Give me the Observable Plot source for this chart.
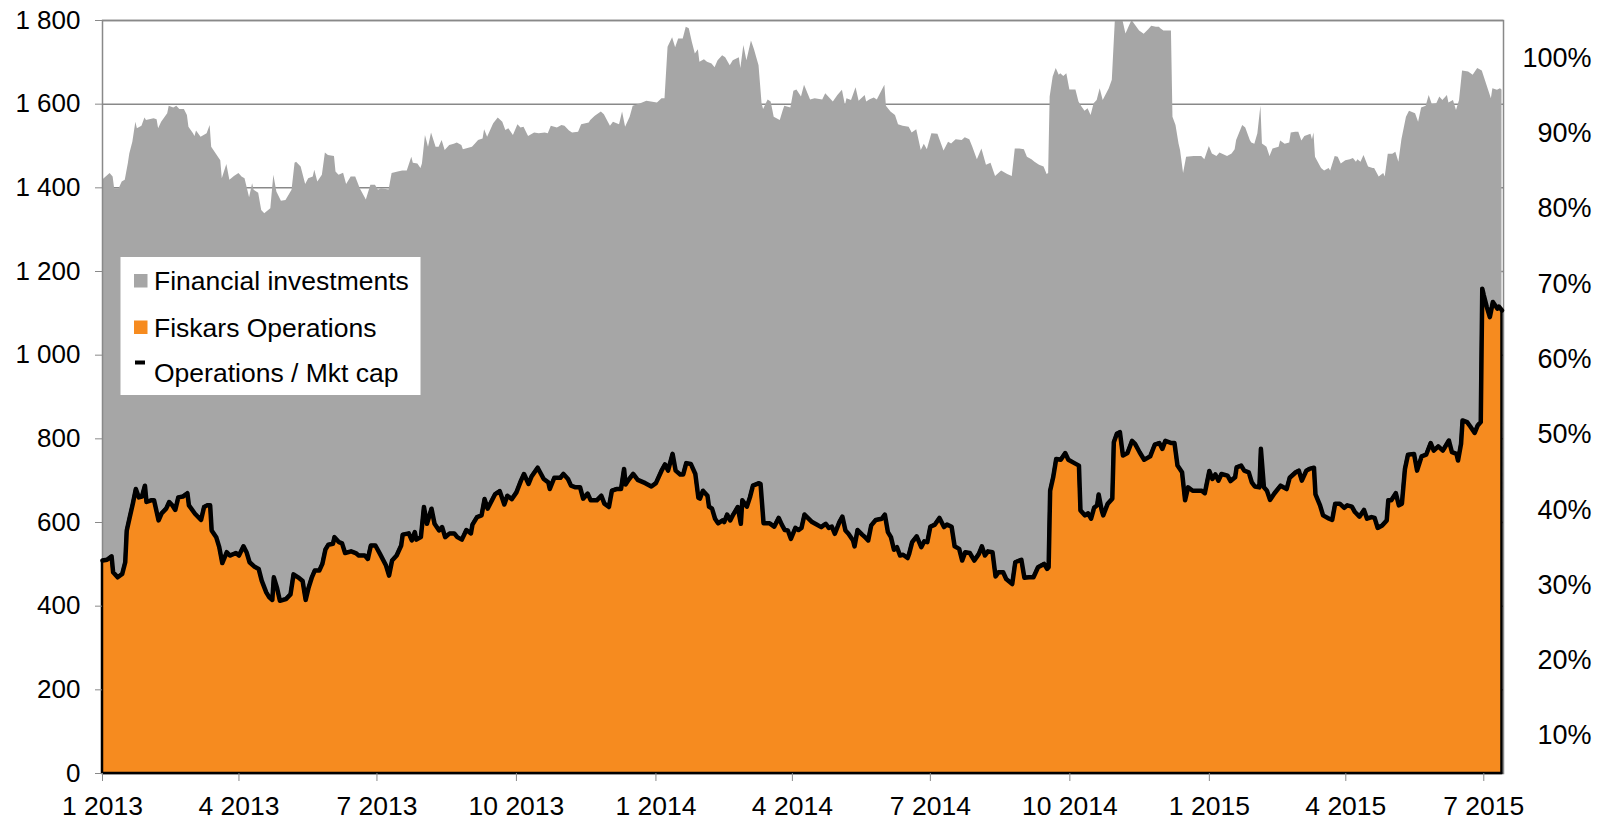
<!DOCTYPE html>
<html><head><meta charset="utf-8">
<script src="https://cdn.jsdelivr.net/npm/d3@7"></script>
<script src="https://cdn.jsdelivr.net/npm/@observablehq/plot@0.6"></script>
<style>html,body{margin:0;padding:0;background:#fff;}</style>
</head><body><div id="chart"></div>
<script>
// Market capitalisation (top of grey area): [days since 2013-01-01, value]
const mktCapSeries = [
[0,1418],[5,1434],[7,1426],[8,1398],[11,1398],[13,1414],[15,1418],[17,1457],[18,1481],[20,1509],[22,1557],[23,1541],[26,1547],[28,1567],[29,1561],[34,1565],[36,1563],[37,1541],[39,1557],[43,1577],[44,1595],[47,1591],[49,1595],[51,1587],[54,1587],[56,1573],[57,1545],[60,1529],[61,1523],[62,1536],[65,1521],[69,1529],[71,1549],[72,1497],[75,1481],[78,1465],[79,1422],[82,1456],[84,1418],[87,1427],[90,1434],[92,1426],[94,1422],[97,1376],[99,1410],[100,1394],[103,1387],[105,1346],[107,1338],[111,1350],[113,1430],[115,1390],[118,1368],[121,1370],[125,1394],[127,1459],[128,1461],[131,1450],[134,1408],[136,1422],[139,1426],[140,1442],[142,1414],[145,1430],[147,1483],[149,1477],[153,1475],[154,1438],[156,1430],[159,1435],[161,1408],[164,1426],[167,1426],[170,1398],[174,1371],[177,1406],[180,1406],[182,1394],[184,1398],[189,1395],[191,1434],[195,1438],[198,1440],[201,1440],[204,1473],[205,1459],[208,1457],[210,1446],[211,1457],[213,1525],[215,1497],[217,1531],[220,1497],[222,1497],[224,1513],[226,1489],[229,1501],[232,1504],[234,1507],[237,1501],[238,1491],[244,1497],[246,1505],[248,1513],[251,1517],[252,1539],[254,1521],[258,1553],[261,1567],[264,1557],[266,1537],[268,1541],[271,1525],[274,1551],[276,1543],[278,1545],[281,1523],[285,1531],[288,1529],[292,1531],[294,1529],[296,1547],[300,1543],[303,1549],[305,1547],[308,1536],[310,1531],
[314,1533],[316,1551],[321,1555],[322,1561],[325,1571],[329,1581],[331,1575],[335,1547],[337,1557],[341,1551],[343,1581],[345,1545],[348,1569],[350,1595],[355,1601],[359,1607],[362,1605],[366,1603],[369,1613],[371,1613],[373,1736],[376,1759],[378,1735],[380,1756],[383,1756],[385,1784],[387,1780],[389,1748],[391,1720],[393,1730],[394,1700],[397,1706],[399,1700],[402,1696],[404,1687],[406,1704],[409,1716],[411,1711],[414,1692],[416,1704],[420,1711],[421,1685],[423,1740],[425,1704],[428,1751],[430,1730],[433,1692],[435,1601],[436,1587],[439,1610],[441,1605],[443,1569],[447,1561],[449,1585],[450,1595],[454,1591],[456,1631],[458,1634],[461,1617],[463,1645],[467,1610],[470,1613],[475,1610],[477,1625],[482,1605],[485,1621],[488,1633],[490,1597],[491,1613],[494,1609],[497,1639],[499,1607],[503,1621],[504,1605],[506,1610],[509,1615],[511,1610],[516,1645],[517,1595],[520,1581],[523,1573],[525,1551],[528,1547],[532,1545],[534,1531],[537,1539],[540,1489],[542,1504],[544,1491],[547,1529],[551,1528],[555,1488],[558,1509],[560,1505],[563,1515],[567,1513],[569,1520],[572,1515],[574,1497],[577,1467],[580,1493],[583,1454],[586,1459],[589,1427],[593,1440],[597,1432],[600,1427],[602,1493],[605,1493],[608,1491],[610,1473],[613,1467],
[615,1461],[618,1454],[621,1450],[623,1432],[624,1434],[625,1617],[627,1665],[629,1685],[631,1669],[632,1673],[634,1666],[636,1673],[638,1634],[642,1634],[644,1605],[646,1593],[648,1583],[650,1589],[652,1573],[654,1601],[656,1609],[658,1637],[660,1609],[664,1637],[666,1657],[668,1800],[670,1800],[673,1800],[675,1768],[678,1792],[679,1800],[681,1790],[684,1775],[687,1767],[690,1778],[692,1786],[695,1784],[697,1784],[698,1780],[700,1775],[705,1775],[706,1569],[708,1549],[710,1505],[711,1489],[713,1434],[715,1473],[720,1475],[725,1475],[727,1467],[730,1499],[732,1481],[735,1475],[737,1483],[742,1475],[745,1481],[747,1491],[748,1513],[752,1549],[754,1543],[757,1513],[758,1507],[760,1504],[762,1529],[764,1595],[765,1505],[768,1497],[770,1475],[772,1493],[776,1497],[777,1512],[780,1504],[783,1507],[784,1531],[787,1533],[789,1533],[791,1512],[793,1523],[797,1528],[798,1515],[799,1531],[800,1473],[804,1446],[806,1440],[809,1446],[810,1440],[813,1475],[815,1473],[817,1457],[820,1465],[823,1467],[825,1470],[827,1461],[828,1467],[830,1461],[832,1477],[835,1450],[838,1446],[839,1446],[842,1426],[845,1434],[846,1426],[848,1480],[851,1480],[853,1485],[855,1461],[857,1515],[860,1569],[862,1583],[866,1577],[868,1557],[870,1591],[873,1595],[875,1621],[877,1599],[880,1601],[882,1617],[884,1609],[887,1621],[888,1603],[891,1609],[893,1585],[895,1609],[897,1679],[901,1677],[904,1669],[907,1685],[910,1679],[912,1657],[916,1613],[917,1637],[920,1633],[922,1637],[923,1634]
];
// Fiskars Operations (orange area, black line): [days since 2013-01-01, value]
const opsSeries = [
[0,509],[3,511],[6,519],[7,481],[10,469],[13,477],[15,505],[16,581],[18,613],[20,645],[22,680],[24,660],[26,662],[28,688],[29,649],[32,653],[34,653],[35,637],[37,605],[39,622],[42,633],[44,649],[46,641],[48,630],[50,660],[53,662],[56,670],[57,641],[61,621],[65,606],[67,637],[69,641],[71,641],[72,581],[75,565],[77,541],[79,503],[82,529],[84,521],[88,527],[90,521],[93,543],[95,529],[97,505],[100,495],[103,489],[105,461],[108,433],[110,421],[112,415],[113,469],[115,445],[117,413],[121,417],[124,428],[126,476],[129,469],[132,460],[133,437],[134,415],[136,445],[138,468],[140,485],[143,485],[145,501],[147,535],[149,547],[152,549],[153,565],[156,553],[158,550],[160,527],[164,531],[167,527],[169,521],[173,521],[175,513],[177,545],[180,545],[183,525],[187,497],[189,473],[191,509],[194,521],[197,545],[198,571],[202,574],[204,557],[206,577],[207,559],[210,565],[212,637],[214,597],[217,633],[219,597],[222,581],[224,589],[226,565],[229,574],[232,574],[234,565],[237,559],[240,582],[243,574],[244,595],[247,613],[250,617],[252,656],[254,633],[259,668],[262,675],[265,643],[267,664],[270,656],[273,672],[276,700],[278,716],[281,692],[283,710],[287,731],[291,704],[294,696],[295,680],[298,707],[302,707],[304,716],[307,704],[309,688],[312,684],
[315,684],[317,657],[320,669],[322,653],[326,653],[329,664],[331,645],[334,637],[336,676],[339,680],[342,680],[344,728],[345,691],[347,702],[350,716],[353,702],[358,694],[362,686],[365,694],[369,726],[371,739],[373,724],[376,764],[378,724],[381,715],[383,715],[385,742],[388,740],[391,716],[393,659],[394,657],[396,676],[399,664],[400,638],[402,633],[404,609],[406,598],[409,605],[410,601],[412,619],[414,605],[416,619],[419,637],[421,597],[422,653],[425,638],[427,660],[429,688],[433,694],[434,692],[436,598],[440,598],[443,590],[446,611],[448,595],[450,582],[452,581],[454,561],[457,587],[459,582],[461,587],[463,619],[468,601],[471,595],[474,589],[477,597],[479,587],[481,590],[483,573],[486,601],[488,614],[490,581],[492,573],[495,557],[496,543],[498,582],[501,571],[503,565],[505,557],[507,593],[510,606],[514,609],[516,619],[518,577],[520,565],[522,535],[524,541],[526,521],[528,523],[531,515],[532,525],[534,553],[537,567],[540,541],[542,555],[544,553],[546,590],[549,595],[552,611],[555,589],[557,595],[560,590],[562,543],[565,537],[567,509],[569,529],[572,527],[575,509],[578,525],[580,543],[582,521],[584,531],[587,529],[589,471],[591,481],[594,481],[596,465],[600,453],[602,505],[606,511],[608,468],[611,469],[614,469],
[615,477],[617,493],[621,501],[623,489],[624,493],[625,676],[627,708],[629,752],[632,750],[635,766],[637,750],[641,742],[644,736],[645,629],[648,617],[650,622],[652,609],[654,635],[656,641],[657,667],[659,629],[660,617],[663,645],[666,657],[667,792],[669,812],[671,816],[673,760],[676,766],[679,795],[681,788],[684,768],[687,750],[691,758],[694,786],[697,790],[699,776],[701,795],[705,790],[707,790],[709,736],[712,720],[714,653],[716,684],[719,676],[722,676],[725,676],[727,670],[730,723],[732,704],[734,715],[736,700],[738,716],[742,712],[744,699],[747,708],[748,732],[751,736],[753,724],[756,720],[758,696],[760,686],[763,684],[764,776],[766,684],[768,676],[770,654],[773,670],[777,688],[781,680],[783,707],[787,720],[789,724],[791,700],[794,724],[796,728],[799,731],[800,667],[803,641],[805,617],[809,609],[811,606],[813,645],[816,645],[819,635],[821,641],[824,638],[826,625],[829,614],[832,630],[834,609],[837,613],[839,611],[841,587],[844,593],[847,605],[848,653],[850,653],[853,670],[855,641],[857,645],[859,728],[861,762],[865,764],[867,724],[870,758],[873,762],[876,790],[878,772],[881,782],[884,772],[888,796],[890,768],[893,764],[894,748],[896,788],[897,844],[900,840],[902,830],[905,814],[907,832],[909,840],[910,1159],[911,1143],[913,1115],[915,1091],[917,1127],[920,1111],[921,1116],[923,1107]
];

const xTickDates = ["2013-01-01","2013-04-01","2013-07-01","2013-10-01","2014-01-01","2014-04-01","2014-07-01","2014-10-01","2015-01-01","2015-04-01","2015-07-01"];
const xTickLabels = ["1 2013","4 2013","7 2013","10 2013","1 2014","4 2014","7 2014","10 2014","1 2015","4 2015","7 2015"];
const yTicks = [0,200,400,600,800,1000,1200,1400,1600,1800];
const yTickLabels = ["0","200","400","600","800","1 000","1 200","1 400","1 600","1 800"];
const shareTicks = [0.1,0.2,0.3,0.4,0.5,0.6,0.7,0.8,0.9,1.0];
const shareTickLabels = ["10%","20%","30%","40%","50%","60%","70%","80%","90%","100%"];
const shareDomain = [0.05, 1.05];
const seriesNames = ["Financial investments","Fiskars Operations","Operations / Mkt cap"];
const seriesColors = ["#a6a6a6","#f68b1f","#000000"];

const base = Date.UTC(2013, 0, 1);
const dayToDate = d => new Date(base + d * 86400000);
const mktCap = mktCapSeries.map(([d, v]) => ({date: dayToDate(d), value: v}));
const ops = opsSeries.map(([d, v]) => ({date: dayToDate(d), value: v}));
const xEnd = dayToDate(924);
const yMax = 1800;
const shareToY = s => (s - shareDomain[0]) / (shareDomain[1] - shareDomain[0]) * yMax;
const rightTicks = shareTicks.map(shareToY);

const font = "'Liberation Sans', Arial, Helvetica, sans-serif";
const gridColor = "#898989";

const chart = Plot.plot({
  width: 1603, height: 820,
  marginLeft: 102, marginRight: 100, marginTop: 20, marginBottom: 47,
  style: {fontFamily: font, fontSize: "27px", color: "#000", background: "#fff", overflow: "visible"},
  x: {type: "utc", domain: [dayToDate(0), xEnd], axis: null},
  y: {domain: [0, yMax], axis: null},
  marks: [
    Plot.gridY(yTicks, {stroke: gridColor, strokeOpacity: 1, strokeWidth: 1.5}),
    Plot.areaY(mktCap, {x: "date", y: "value", fill: seriesColors[0], clip: true}),
    Plot.frame({stroke: gridColor, strokeWidth: 1.5}),
    Plot.areaY(ops, {x: "date", y: "value", fill: seriesColors[1], stroke: "#000", strokeWidth: 2.5}),
    Plot.lineY(ops, {x: "date", y: "value", stroke: seriesColors[2], strokeWidth: 4.5, strokeLinejoin: "round", strokeLinecap: "round"}),
    Plot.axisY(yTicks, {anchor: "left", label: null, tickSize: 7, tickPadding: 15, fontSize: 26, stroke: gridColor, fill: "#000",
      tickFormat: d => yTickLabels[yTicks.indexOf(d)]}),
    Plot.axisY(rightTicks, {anchor: "right", label: null, tickSize: 0, tickPadding: 88, textAnchor: "end", fontSize: 27, fill: "#000",
      tickFormat: d => shareTickLabels[rightTicks.indexOf(d)]}),
    Plot.axisX(xTickDates.map(s => new Date(s + "T00:00:00Z")), {anchor: "bottom", label: null, tickSize: 8, tickPadding: 15, fontSize: 26.5, stroke: gridColor, fill: "#000",
      tickFormat: d => xTickLabels[xTickDates.findIndex(s => +new Date(s + "T00:00:00Z") === +d)]})
  ]
});

document.getElementById("chart").appendChild(chart);

// Legend inside the plot area
const svg = d3.select(chart);
const lg = svg.append("g").attr("font-family", font).attr("font-size", 26.5).attr("fill", "#000").attr("text-anchor", "start");
lg.append("rect").attr("x", 120.5).attr("y", 257).attr("width", 300).attr("height", 138).attr("fill", "#fff");
const rowY = [280.5, 327, 372.5];
seriesNames.forEach((name, i) => {
  if (i < 2) {
    lg.append("rect").attr("x", 134).attr("y", rowY[i] - 6.5).attr("width", 13.5).attr("height", 13.5).attr("fill", seriesColors[i]);
  } else {
    lg.append("rect").attr("x", 135).attr("y", rowY[i] - 12).attr("width", 10).attr("height", 4).attr("fill", seriesColors[i]);
  }
  lg.append("text").attr("x", 154).attr("y", rowY[i]).attr("dy", "0.36em").attr("text-anchor", "start").text(name);
});
</script></body></html>
